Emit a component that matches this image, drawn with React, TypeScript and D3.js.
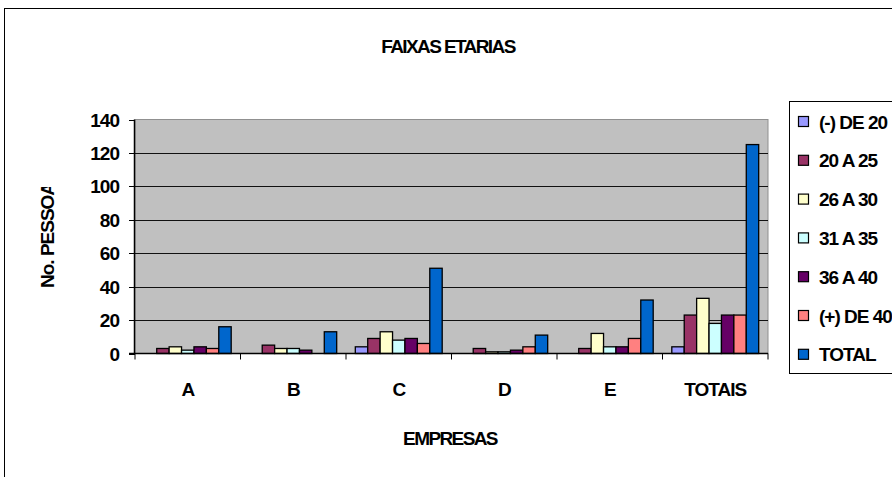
import React from "react";
import * as d3 from "d3";

const categories = ["A", "B", "C", "D", "E", "TOTAIS"];
const seriesNames = ["(-) DE 20", "20 A 25", "26 A 30", "31 A 35", "36 A 40", "(+) DE 40", "TOTAL"];
const deMenos20 = [0, 0, 4, 0, 0, 4];
const de20a25 = [3, 5, 9, 3, 3, 23];
const de26a30 = [4, 3, 13, 1, 12, 33];
const de31a35 = [2, 3, 8, 1, 4, 18];
const de36a40 = [4, 2, 9, 2, 4, 23];
const deMais40 = [3, 0, 6, 4, 9, 23];
const total = [16, 13, 51, 11, 32, 125];
const yTicks = [0, 20, 40, 60, 80, 100, 120, 140];
const colors = ["#9999FF", "#993366", "#FFFFCC", "#CCFFFF", "#660066", "#FF8080", "#0066CC"];

const seriesValues = [deMenos20, de20a25, de26a30, de31a35, de36a40, deMais40, total];

const W = 892;
const H = 477;
const plot = { left: 135, right: 768, top: 119.5, bottom: 353.5 };
const FONT = "'Liberation Sans', Arial, sans-serif";

export default function App() {
  const gap = 1.5;
  const pad = gap / (7 + gap);
  const x0 = d3
    .scaleBand<string>()
    .domain(categories)
    .range([plot.left, plot.right])
    .paddingInner(pad)
    .paddingOuter(pad / 2);
  const x1 = d3
    .scaleBand<string>()
    .domain(seriesNames)
    .range([0, x0.bandwidth()])
    .padding(0);
  const y = d3.scaleLinear().domain([0, 140]).range([plot.bottom, plot.top]);
  const step = x0.step();
  const boundaries = d3.range(categories.length + 1).map((i) => plot.left + i * step);

  const textStyle: React.CSSProperties = {
    fontFamily: FONT,
    fontWeight: "bold",
    fontSize: 19,
    letterSpacing: "-1px",
  };
  const titleStyle: React.CSSProperties = { ...textStyle, letterSpacing: "-1.6px" };

  const legendTop = 121.5;
  const legendStep = 38.8;

  return (
    <div style={{ position: "absolute", left: 0, top: 0 }}>
      <svg width={W} height={H} style={{ display: "block" }}>
        <defs>
          <clipPath id="ytitleclip">
            <rect x={0} y={187} width={120} height={200} />
          </clipPath>
        </defs>
        <rect x={0} y={0} width={W} height={H} fill="#fff" />
        <rect x={4.5} y={8.5} width={W + 10} height={H + 10} fill="#fff" stroke="#000" strokeWidth={1} />
        <text x={448} y={53} textAnchor="middle" style={titleStyle}>
          FAIXAS ETARIAS
        </text>

        {/* plot area */}
        <rect
          x={plot.left}
          y={plot.top}
          width={plot.right - plot.left}
          height={plot.bottom - plot.top}
          fill="#C0C0C0"
          stroke="#909090"
          strokeWidth={1}
        />
        {yTicks.map((t) => (
          <g key={t}>
            {t > 0 && t < 140 && (
              <line x1={plot.left} x2={plot.right} y1={Math.round(y(t)) + 0.5} y2={Math.round(y(t)) + 0.5} stroke="#111" strokeWidth={1} />
            )}
            <line x1={plot.left - 6} x2={plot.left} y1={Math.round(y(t)) + 0.5} y2={Math.round(y(t)) + 0.5} stroke="#000" />
            <text x={119} y={y(t) + 7} textAnchor="end" style={textStyle}>
              {t}
            </text>
          </g>
        ))}

        {/* bars */}
        {categories.map((c, ci) => (
          <g key={c} transform={`translate(${x0(c)},0)`}>
            {seriesNames.map((s, si) => {
              const v = seriesValues[si][ci];
              if (v <= 0) return null;
              return (
                <rect
                  key={s}
                  x={(x1(s) as number)}
                  y={y(v)}
                  width={x1.bandwidth()}
                  height={y(0) - y(v)}
                  fill={colors[si]}
                  stroke="#000"
                  strokeWidth={1.3}
                />
              );
            })}
          </g>
        ))}

        {/* axes */}
        <line x1={plot.left - 0.5} x2={plot.left - 0.5} y1={plot.top} y2={plot.bottom} stroke="#000" strokeWidth={1.5} />
        <line x1={plot.left - 6} x2={plot.right} y1={plot.bottom} y2={plot.bottom} stroke="#000" strokeWidth={1.5} />
        {boundaries.map((b, i) => (
          <line key={i} x1={b} x2={b} y1={plot.bottom} y2={plot.bottom + 6} stroke="#000" />
        ))}
        {categories.map((c) => (
          <text key={c} x={(x0(c) as number) + x0.bandwidth() / 2} y={396} textAnchor="middle" style={textStyle}>
            {c}
          </text>
        ))}

        <text x={450} y={445} textAnchor="middle" style={titleStyle}>
          EMPRESAS
        </text>
        <g clipPath="url(#ytitleclip)">
          <text transform={`translate(54,288) rotate(-90)`} textAnchor="start" style={textStyle}>
            No. PESSOAS
          </text>
        </g>

        {/* legend */}
        <rect x={789.5} y={101.5} width={120} height={272} fill="#fff" stroke="#000" strokeWidth={1} />
        {seriesNames.map((s, i) => (
          <g key={s} transform={`translate(798,${legendTop + i * legendStep})`}>
            <rect x={0.5} y={-5} width={10} height={10} fill={colors[i]} stroke="#000" strokeWidth={1.2} />
            <text x={21} y={7} style={textStyle}>
              {s}
            </text>
          </g>
        ))}
      </svg>
    </div>
  );
}
